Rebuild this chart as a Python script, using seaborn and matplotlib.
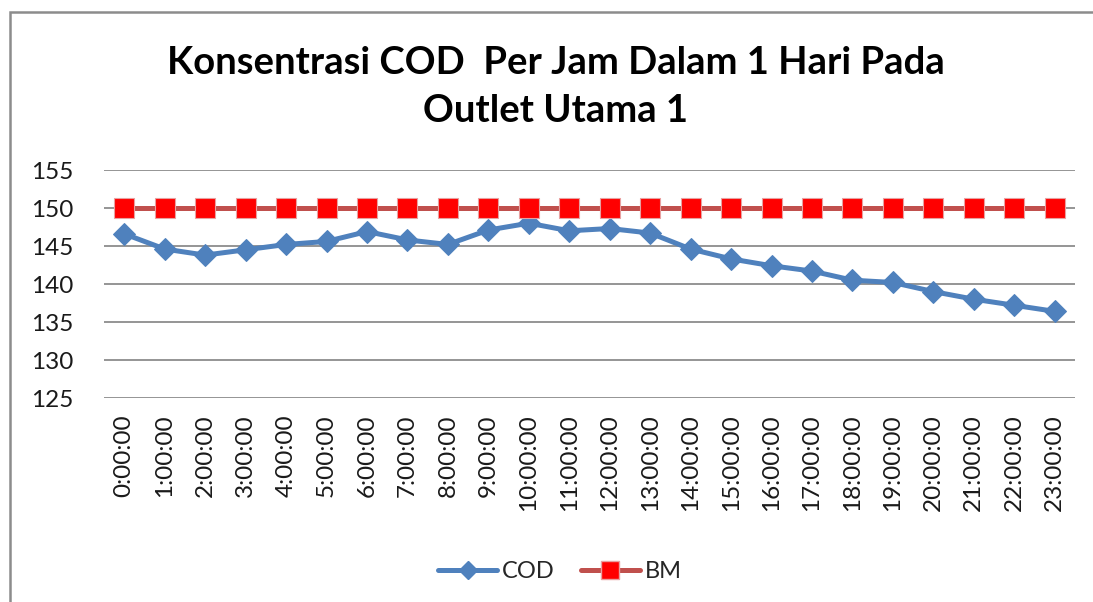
import matplotlib
matplotlib.use("Agg")
import matplotlib.pyplot as plt
import seaborn as sns
import pandas as pd
from matplotlib.patches import Rectangle
from matplotlib.lines import Line2D

hours = ["0:00:00", "1:00:00", "2:00:00", "3:00:00", "4:00:00", "5:00:00",
         "6:00:00", "7:00:00", "8:00:00", "9:00:00", "10:00:00", "11:00:00",
         "12:00:00", "13:00:00", "14:00:00", "15:00:00", "16:00:00", "17:00:00",
         "18:00:00", "19:00:00", "20:00:00", "21:00:00", "22:00:00", "23:00:00"]
cod = [146.6, 144.6, 143.8, 144.5, 145.2, 145.6, 146.9, 145.8, 145.2, 147.1,
       148.0, 147.0, 147.3, 146.7, 144.6, 143.3, 142.4, 141.7, 140.5, 140.2,
       139.0, 138.0, 137.2, 136.4]
bm = [150] * 24
title = "Konsentrasi COD  Per Jam Dalam 1 Hari Pada\nOutlet Utama 1"
yticks = [125, 130, 135, 140, 145, 150, 155]

sns.set_theme(style="white")
plt.rcParams['font.family'] = ['Lato', 'DejaVu Sans']

df = pd.DataFrame({"Jam": hours, "COD": cod, "BM": bm})

fig = plt.figure(figsize=(10.93, 6.02), dpi=100)
ax = fig.add_axes([104/1093, 1-398/602, (1075-104)/1093, (398-170)/602])

cod_color = "#4F81BD"
bm_line = "#C0504D"
bm_mark = "#FF0000"

sns.lineplot(data=df, x="Jam", y="COD", ax=ax, color=cod_color, linewidth=3.6,
             marker="D", markersize=11, markeredgecolor=cod_color,
             markerfacecolor=cod_color, sort=False, zorder=3)
sns.lineplot(data=df, x="Jam", y="BM", ax=ax, color=bm_line, linewidth=3.6,
             marker="s", markersize=14, markeredgecolor="#E8A0A0",
             markeredgewidth=0.8, markerfacecolor=bm_mark, sort=False, zorder=4)

ax.set_xlim(-0.5, len(hours) - 0.5)
ax.set_ylim(125, 155)
ax.set_yticks(yticks)
ax.set_yticklabels([str(v) for v in yticks])
ax.set_xticks(range(len(hours)))
ax.set_xticklabels(hours, rotation=90)
ax.grid(axis="y", color="#8C8C8C", linewidth=1.3)
ax.set_axisbelow(True)
for s in ax.spines.values():
    s.set_visible(False)
ax.tick_params(axis="both", length=0, labelsize=17.5, colors="#1a1a1a")
ax.tick_params(axis="y", pad=22)
ax.tick_params(axis="x", pad=12)
ax.set_xlabel("")
ax.set_ylabel("")

fig.text(556/1093, 1-87/602, title, ha="center", va="center",
         fontsize=27.5, fontweight="bold", linespacing=1.5, color="black")

handles = [Line2D([], [], color=cod_color, linewidth=3.6, marker="D", markersize=9,
                  markerfacecolor=cod_color, markeredgecolor=cod_color),
           Line2D([], [], color=bm_line, linewidth=3.6, marker="s", markersize=13,
                  markerfacecolor=bm_mark, markeredgecolor="#E8A0A0")]
fig.legend(handles, ["COD", "BM"], loc="center", bbox_to_anchor=(560/1093, 1-572/602),
           ncol=2, frameon=False, fontsize=17, handlelength=2.5, handletextpad=0.2,
           columnspacing=1.1)

fig.patches.append(Rectangle((10/1093, -0.1), 1.2, 1-12/602+0.1,
                             transform=fig.transFigure, fill=False,
                             edgecolor="#8C8C8C", linewidth=1.8))

fig.savefig("out.png", dpi=100)
